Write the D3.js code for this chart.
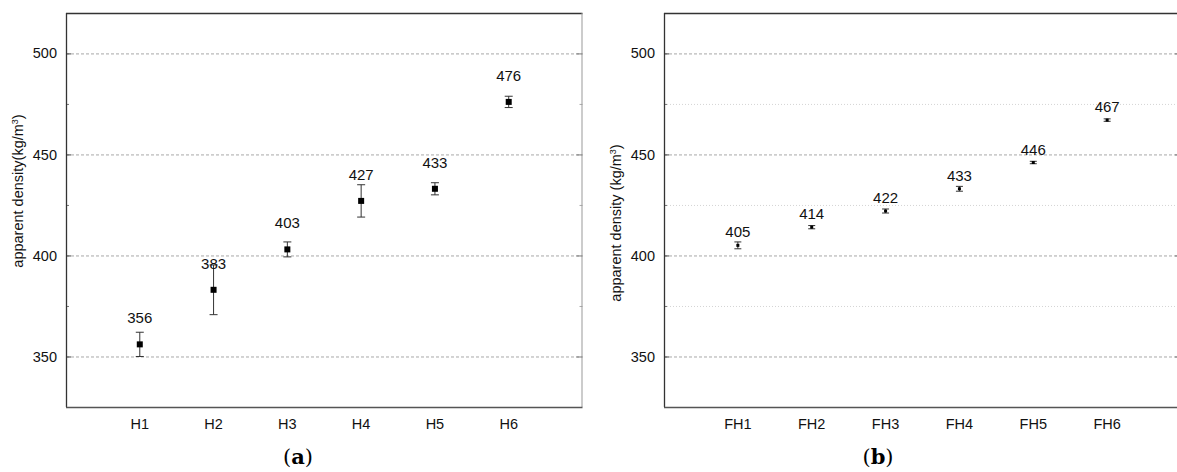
<!DOCTYPE html>
<html>
<head>
<meta charset="utf-8">
<script src="https://cdn.jsdelivr.net/npm/d3@7"></script>
<style>
  body { margin: 0; background: #fff; }
  svg { display: block; font-family: "Liberation Sans", Arial, sans-serif; }
  .grid-major { stroke: #a8a8a8; stroke-dasharray: 3,2; stroke-width: 1; }
  .grid-minor { stroke: #d4d4d4; stroke-dasharray: 1,2; stroke-width: 1; }
</style>
</head>
<body>
<svg id="chart" width="1177" height="472"></svg>
<script>
// panel (a)
const catsA = ["H1", "H2", "H3", "H4", "H5", "H6"];
const meansA = [356, 383, 403, 427, 433, 476];
const errA = [6, 12.3, 3.7, 8, 3, 2.8];

// panel (b)
const catsB = ["FH1", "FH2", "FH3", "FH4", "FH5", "FH6"];
const meansB = [405, 414, 422, 433, 446, 467];
const errB = [1.7, 0.8, 1.0, 1.2, 0.6, 0.6];

const majorTicks = [350, 400, 450, 500];
const minorTicks = [375, 425, 475];
const yDomain = [325, 520];

const svg = d3.select("#chart");
const plotTop = 13, plotBottom = 407;

const panels = [
  { x0: 66, x1: 582.5, cats: catsA, means: meansA, errs: errA,
    ylabel: "apparent density(kg/m", labX: 23, labY: 191,
    marker: 6, cap: 8, labelOff: 21, minorGrid: false, caption: "a", capX: 298 },
  { x0: 664, x1: 1181, cats: catsB, means: meansB, errs: errB,
    ylabel: "apparent density (kg/m", labX: 621, labY: 223,
    marker: 3, cap: 7, labelOff: 8, minorGrid: true, caption: "b", capX: 878 }
];

panels.forEach(p => {
  const x = d3.scaleLinear().domain([0, p.cats.length + 1]).range([p.x0, p.x1]);
  const y = d3.scaleLinear().domain(yDomain).range([plotBottom, plotTop]);
  const g = svg.append("g");

  // gridlines
  g.append("g").selectAll("line").data(majorTicks).join("line")
    .attr("class", "grid-major")
    .attr("x1", p.x0).attr("x2", p.x1)
    .attr("y1", d => y(d) + 0.5).attr("y2", d => y(d) + 0.5);
  if (p.minorGrid) {
    g.append("g").selectAll("line").data(minorTicks).join("line")
      .attr("class", "grid-minor")
      .attr("x1", p.x0).attr("x2", p.x1)
      .attr("y1", d => y(d) + 0.5).attr("y2", d => y(d) + 0.5);
  }

  // left axis, inward ticks
  g.append("g").attr("transform", `translate(${p.x0},0)`)
    .call(d3.axisRight(y).tickValues(majorTicks).tickSize(5).tickFormat(""))
    .call(a => a.select(".domain").remove())
    .selectAll("line").attr("stroke", "#444");
  g.append("g").attr("transform", `translate(${p.x0},0)`)
    .call(d3.axisRight(y).tickValues(minorTicks).tickSize(3).tickFormat(""))
    .call(a => a.select(".domain").remove())
    .selectAll("line").attr("stroke", "#777");

  g.append("g").selectAll("text").data(majorTicks).join("text")
    .attr("x", p.x0 - 9).attr("y", d => y(d)).attr("dy", "0.35em")
    .attr("text-anchor", "end").attr("font-size", 14.5).attr("fill", "#111")
    .text(d => d);

  // right axis, inward ticks
  g.append("g").attr("transform", `translate(${p.x1},0)`)
    .call(d3.axisLeft(y).tickValues(majorTicks).tickSize(6).tickFormat(""))
    .call(a => a.select(".domain").remove())
    .selectAll("line").attr("stroke", "#777");
  g.append("g").attr("transform", `translate(${p.x1},0)`)
    .call(d3.axisLeft(y).tickValues(minorTicks).tickSize(3).tickFormat(""))
    .call(a => a.select(".domain").remove())
    .selectAll("line").attr("stroke", "#aaa");

  // frame
  g.append("line").attr("x1", p.x0).attr("x2", p.x1).attr("y1", plotTop + 0.5).attr("y2", plotTop + 0.5)
    .attr("stroke", "#333").attr("stroke-width", 1.3);
  g.append("line").attr("x1", p.x0 + 0.5).attr("x2", p.x0 + 0.5).attr("y1", plotTop).attr("y2", plotBottom)
    .attr("stroke", "#333").attr("stroke-width", 1.3);
  g.append("line").attr("x1", p.x1 - 0.5).attr("x2", p.x1 - 0.5).attr("y1", plotTop).attr("y2", plotBottom)
    .attr("stroke", "#999");
  g.append("line").attr("x1", p.x0).attr("x2", p.x1).attr("y1", plotBottom + 0.5).attr("y2", plotBottom + 0.5)
    .attr("stroke", "#555").attr("stroke-width", 1.3);

  // category labels
  g.append("g").selectAll("text").data(p.cats).join("text")
    .attr("x", (d, i) => x(i + 1)).attr("y", 429)
    .attr("text-anchor", "middle").attr("font-size", 14.5).attr("fill", "#111")
    .text(d => d);

  // y label
  const yl = g.append("text")
    .attr("transform", `translate(${p.labX},${p.labY}) rotate(-90)`)
    .attr("text-anchor", "middle").attr("font-size", 14.5).attr("fill", "#111");
  yl.append("tspan").text(p.ylabel);
  yl.append("tspan").attr("font-size", 9).attr("dy", -5).text("3");
  yl.append("tspan").attr("dy", 5).text(")");

  // error bars
  const pts = p.means.map((m, i) => ({ c: p.cats[i], m, e: p.errs[i], i }));
  const eb = g.append("g").selectAll("g").data(pts).join("g");
  eb.append("line")
    .attr("x1", d => x(d.i + 1)).attr("x2", d => x(d.i + 1))
    .attr("y1", d => y(d.m + d.e)).attr("y2", d => y(d.m - d.e))
    .attr("stroke", "#333");
  [1, -1].forEach(s => {
    eb.append("line")
      .attr("x1", d => x(d.i + 1) - p.cap / 2).attr("x2", d => x(d.i + 1) + p.cap / 2)
      .attr("y1", d => y(d.m + s * d.e)).attr("y2", d => y(d.m + s * d.e))
      .attr("stroke", "#333");
  });
  eb.append("rect")
    .attr("x", d => x(d.i + 1) - p.marker / 2).attr("y", d => y(d.m) - p.marker / 2)
    .attr("width", p.marker).attr("height", p.marker).attr("fill", "#000");

  // value labels
  g.append("g").selectAll("text").data(pts).join("text")
    .attr("x", d => x(d.i + 1)).attr("y", d => y(d.m) - p.labelOff)
    .attr("text-anchor", "middle").attr("font-size", 15).attr("fill", "#111")
    .text(d => d3.format("d")(d.m));

  // caption
  const cap = svg.append("text")
    .attr("x", p.capX).attr("y", 464).attr("text-anchor", "middle")
    .attr("font-family", "'DejaVu Serif', 'Liberation Serif', serif").attr("font-size", 21)
    .attr("fill", "#000");
  cap.append("tspan").text("(");
  cap.append("tspan").attr("font-weight", "bold").text(p.caption);
  cap.append("tspan").text(")");
});
</script>
</body>
</html>
